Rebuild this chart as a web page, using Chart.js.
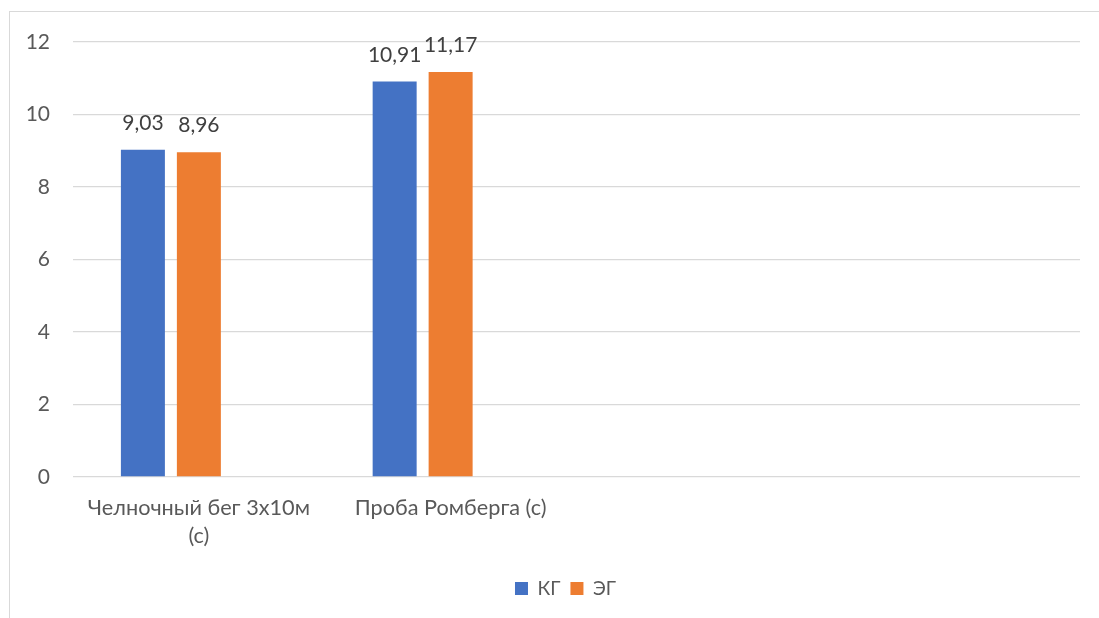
<!DOCTYPE html>
<html lang="ru">
<head>
<meta charset="utf-8">
<title>КГ и ЭГ</title>
<script src="https://cdn.jsdelivr.net/npm/chart.js@4/dist/chart.umd.min.js"></script>
<style>
  html, body { margin: 0; padding: 0; background: #fff; }
  #wrap { position: relative; width: 1099px; height: 618px; overflow: hidden; }
  #frame { position: absolute; left: 9px; top: 11px; width: 1200px; height: 700px;
           border: 1px solid #d9d9d9; box-sizing: border-box; }
  #chart { position: absolute; left: 0; top: 0; }
</style>
</head>
<body>
<div id="wrap">
  <div id="frame"></div>
  <canvas id="chart" width="1099" height="618"></canvas>
</div>
<script>
// Test categories (two empty slots keep the plot width of the source sheet)
const categories = [['Челночный бег 3х10м', '(с)'], 'Проба Ромберга (с)', '', ''];
// Control group (КГ) and experimental group (ЭГ), seconds
const kgValues = [9.03, 10.91, null, null];
const egValues = [8.96, 11.17, null, null];
// Third, empty series that still reserves its bar slot
const spareValues = [null, null, null, null];
const seriesNames = ['КГ', 'ЭГ', 'Ряд3'];
const yTicks = [0, 2, 4, 6, 8, 10, 12];

const FONT = 'Lato, "Open Sans", "Noto Sans", sans-serif';
const TEXT = '#595959';

// Value labels above each bar, with a comma as decimal separator
const valueLabels = {
  id: 'valueLabels',
  afterDatasetsDraw(chart) {
    const ctx = chart.ctx;
    ctx.save();
    ctx.font = '21px ' + FONT;
    ctx.fillStyle = '#404040';
    ctx.textAlign = 'center';
    ctx.textBaseline = 'alphabetic';
    chart.data.datasets.forEach((ds, i) => {
      const meta = chart.getDatasetMeta(i);
      meta.data.forEach((bar, j) => {
        const v = ds.data[j];
        if (v === null || v === undefined) return;
        ctx.fillText(v.toFixed(2).replace('.', ','), bar.x, bar.y - 20);
      });
    });
    ctx.restore();
  }
};

// Centre the legend under the plot area rather than the whole canvas
const legendUnderPlot = {
  id: 'legendUnderPlot',
  afterLayout(chart) {
    const lg = chart.legend;
    if (!lg) return;
    const shift = (chart.chartArea.left + chart.chartArea.right) / 2 - (lg.left + lg.right) / 2 - 11;
    lg.left += shift;
    lg.right += shift;
  }
};

new Chart(document.getElementById('chart'), {
  type: 'bar',
  data: {
    labels: categories,
    datasets: [
      { label: seriesNames[0], data: kgValues, backgroundColor: '#4472C4' },
      { label: seriesNames[1], data: egValues, backgroundColor: '#ED7D31' },
      { label: seriesNames[2], data: spareValues, backgroundColor: '#A5A5A5' }
    ]
  },
  options: {
    responsive: false,
    animation: false,
    devicePixelRatio: 1,
    layout: { padding: { left: 0, right: 19, top: 42, bottom: 10 } },
    datasets: { bar: { categoryPercentage: 0.667, barPercentage: 0.786 } },
    scales: {
      x: {
        grid: { display: false, drawTicks: false },
        border: { display: false },
        ticks: { color: TEXT, font: { family: FONT, size: 21.7, lineHeight: 1.3 }, padding: 17, maxRotation: 0, autoSkip: false },
        afterFit(scale) { scale.height = 92; }
      },
      y: {
        min: 0, max: 12,
        afterBuildTicks(scale) { scale.ticks = yTicks.map(v => ({ value: v })); },
        grid: { color: '#d9d9d9', lineWidth: 1.3, drawTicks: false },
        border: { display: false },
        ticks: { color: TEXT, font: { family: FONT, size: 21 }, padding: 23 },
        afterFit(scale) { scale.width = 73; }
      }
    },
    plugins: {
      legend: {
        position: 'bottom',
        labels: {
          color: TEXT,
          font: { family: FONT, size: 19 },
          boxWidth: 13, boxHeight: 13, padding: 10,
          filter: (item) => item.datasetIndex < 2
        }
      },
      tooltip: { enabled: false }
    }
  },
  plugins: [valueLabels, legendUnderPlot]
});
</script>
</body>
</html>
